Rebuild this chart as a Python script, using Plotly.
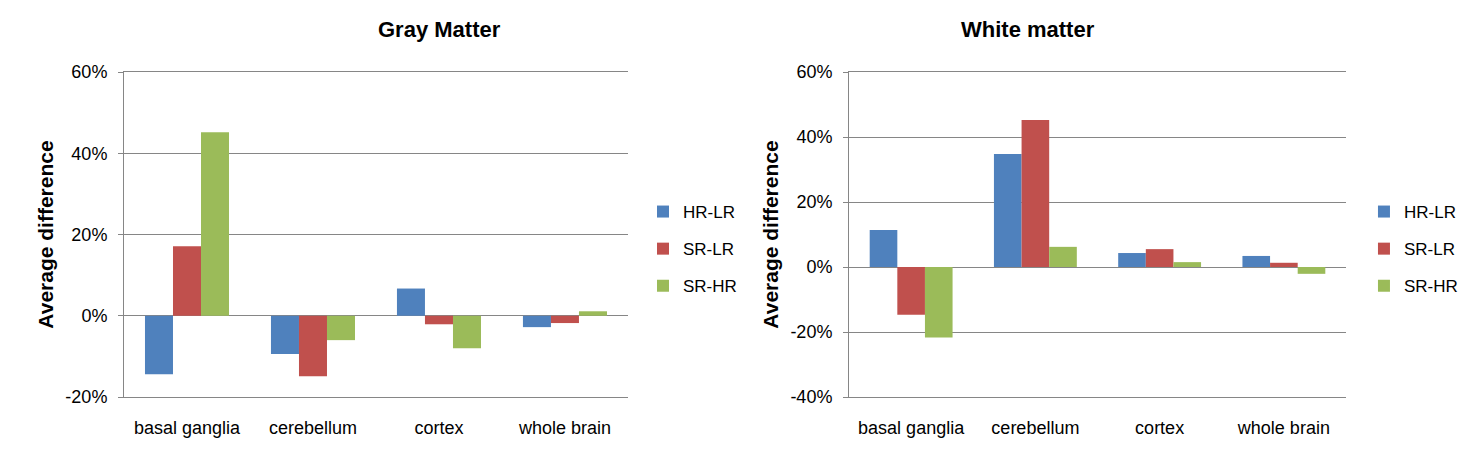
import plotly.graph_objects as go

regions = ["basal ganglia", "cerebellum", "cortex", "whole brain"]
series = ["HR-LR", "SR-LR", "SR-HR"]
colors = ["#4F81BD", "#C0504D", "#9BBB59"]

# average difference, fractions (shown as %)
gray_hr_lr = [-0.144, -0.094, 0.067, -0.028]
gray_sr_lr = [0.171, -0.149, -0.021, -0.018]
gray_sr_hr = [0.452, -0.060, -0.080, 0.011]

white_hr_lr = [0.114, 0.348, 0.043, 0.034]
white_sr_lr = [-0.147, 0.452, 0.055, 0.013]
white_sr_hr = [-0.217, 0.062, 0.015, -0.021]

gray = [gray_hr_lr, gray_sr_lr, gray_sr_hr]
white = [white_hr_lr, white_sr_lr, white_sr_hr]

# y tick labels (plain hyphen like the original, not the unicode minus)
gray_ticks = [-0.2, 0.0, 0.2, 0.4, 0.6]
gray_ticktext = ["-20%", "0%", "20%", "40%", "60%"]
white_ticks = [-0.4, -0.2, 0.0, 0.2, 0.4, 0.6]
white_ticktext = ["-40%", "-20%", "0%", "20%", "40%", "60%"]

GRID = "#868686"
FONT = "Liberation Sans, Arial, sans-serif"

fig = go.Figure()

for i, name in enumerate(series):
    fig.add_trace(go.Bar(x=regions, y=gray[i], name=name, marker_color=colors[i],
                         marker_line_width=0, xaxis="x", yaxis="y",
                         legend="legend", legendgroup="g%d" % i))
for i, name in enumerate(series):
    fig.add_trace(go.Bar(x=regions, y=white[i], name=name, marker_color=colors[i],
                         marker_line_width=0, xaxis="x2", yaxis="y2",
                         legend="legend2", legendgroup="w%d" % i))

yaxis_style = dict(
    tickmode="array", showgrid=True, gridcolor=GRID, gridwidth=1,
    zeroline=True, zerolinecolor=GRID, zerolinewidth=1,
    showline=True, linecolor=GRID, linewidth=1,
    ticks="outside", ticklen=5, tickcolor=GRID,
    tickfont=dict(size=18, color="#000000"),
    ticklabelstandoff=7, automargin=False,
    title=dict(text="<b>Average difference</b>", font=dict(size=21, color="#000000"), standoff=6),
)
# top/bottom frame lines stand in for the gridlines at the range ends
xaxis_style = dict(showgrid=False, showline=True, mirror=True, linecolor=GRID, linewidth=1,
                   ticks="", ticklabelstandoff=14, automargin=False,
                   tickfont=dict(size=18, color="#000000"))

legend_style = dict(font=dict(size=17, color="#000000"), tracegroupgap=12,
                    yanchor="middle", xanchor="left", bgcolor="rgba(0,0,0,0)")

# page body adds an 8px offset, margins are set to compensate
title_y = 1 + (64 - 22) / 325.0

fig.update_layout(
    width=1475, height=450,
    margin=dict(l=116, r=137, t=64, b=61, autoexpand=False),
    paper_bgcolor="white", plot_bgcolor="white",
    font=dict(family=FONT, color="#000000"),
    barmode="group", bargap=0.333, bargroupgap=0,
    xaxis=dict(domain=[0, 0.4124], anchor="y", **xaxis_style),
    xaxis2=dict(domain=[0.5933, 1.0], anchor="y2", **xaxis_style),
    yaxis=dict(domain=[0, 1], anchor="x", range=[-0.2, 0.6],
               tickvals=gray_ticks, ticktext=gray_ticktext, **yaxis_style),
    yaxis2=dict(domain=[0, 1], anchor="x2", range=[-0.4, 0.6],
                tickvals=white_ticks, ticktext=white_ticktext, **yaxis_style),
    legend=dict(x=0.4247, y=0.4554, **legend_style),
    legend2=dict(x=1.0147, y=0.4554, **legend_style),
    annotations=[
        dict(text="<b>Gray Matter</b>", x=0.2062, y=title_y, xref="paper", yref="paper",
             yanchor="middle", showarrow=False, font=dict(size=22)),
        dict(text="<b>White matter</b>", x=0.7966, y=title_y, xref="paper", yref="paper",
             yanchor="middle", showarrow=False, font=dict(size=22)),
    ],
)

fig.write_html("out.html")
